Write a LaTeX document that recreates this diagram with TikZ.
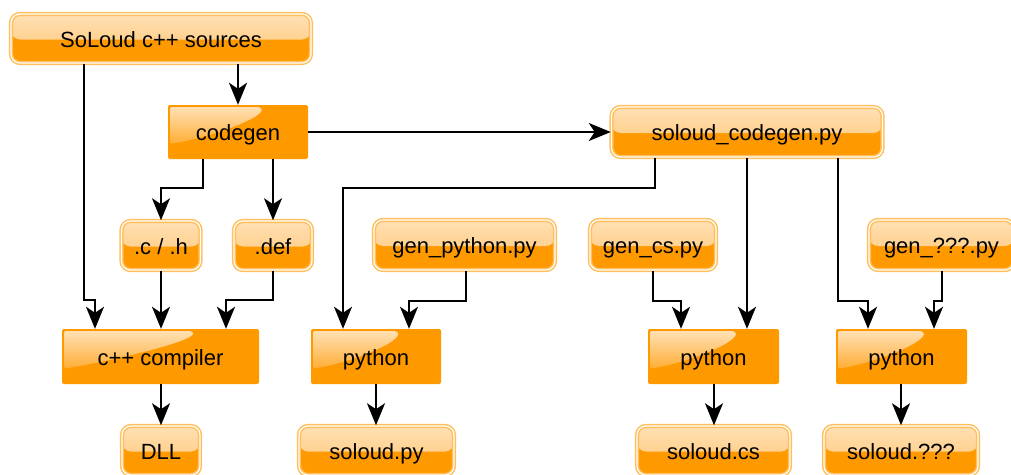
\documentclass[tikz,border=0pt]{standalone}
\usepackage{fontspec}
\setmainfont{Liberation Sans}
\usetikzlibrary{arrows.meta,calc}
\definecolor{org}{HTML}{FF9900}
\definecolor{orglight}{HTML}{FFC46E}
\definecolor{orgtop}{HTML}{FFE0B5}
\definecolor{orgrim}{HTML}{FFBF5C}
\definecolor{glosstop}{HTML}{FFE3BC}
\tikzset{
  base/.style={font=\fontsize{22}{26}\selectfont, text=black, inner sep=0pt, anchor=center,
    text height=21pt, text depth=4pt},
  procbox/.style={base, fill=org, rounded corners=2pt, path picture={
    \shade[top color=glosstop, bottom color=org]
      ([shift={(2pt,-2pt)}]path picture bounding box.north west)
      -- ($(path picture bounding box.north west)!0.66!(path picture bounding box.north east)+(0,-2pt)$)
      .. controls +(6pt,-10pt) and +(40pt,6pt) ..
      ($(path picture bounding box.north west)!0.72!(path picture bounding box.south west)+(2pt,0)$)
      -- cycle;
  }},
  docbox/.style={base, draw=orgrim, line width=1.5pt, double=white, double distance=1.2pt,
    rounded corners=9pt, fill=org, path picture={
    \shade[top color=orgtop, bottom color=orglight]
      (path picture bounding box.north west) rectangle ($(path picture bounding box.east)+(0,-1pt)$);
  }},
  arr/.style={line width=2pt, line join=miter, -{Stealth[length=22pt,width=18pt,inset=6pt]}},
}
\begin{document}
\begin{tikzpicture}[x=1pt,y=-1pt]
\useasboundingbox (0,0) rectangle (1011,474);
% row 1
\node[docbox, minimum width=300pt, minimum height=49pt] (src) at (161,38.5) {SoLoud c++ sources};
% row 2
\node[procbox, minimum width=140pt, minimum height=54pt] (codegen) at (238,132) {codegen};
\node[docbox, minimum width=271pt, minimum height=50pt] (scg) at (747,132) {soloud\_codegen.py};
% row 3
\node[docbox, minimum width=79pt, minimum height=49pt] (ch) at (161,245.5) {.c / .h};
\node[docbox, minimum width=78pt, minimum height=49pt] (def) at (273,245.5) {.def};
\node[docbox, minimum width=181pt, minimum height=50pt] (genpy) at (464.5,245) {gen\_python.py};
\node[docbox, minimum width=126pt, minimum height=50pt] (gencs) at (653,245) {gen\_cs.py};
\node[docbox, minimum width=145pt, minimum height=50pt] (genq) at (941.5,245) {gen\_???.py};
% row 4
\node[procbox, minimum width=197pt, minimum height=55pt] (cpp) at (160.5,356.5) {c++ compiler};
\node[procbox, minimum width=130pt, minimum height=55pt] (py1) at (376,356.5) {python};
\node[procbox, minimum width=131pt, minimum height=55pt] (py2) at (713.5,356.5) {python};
\node[procbox, minimum width=131pt, minimum height=55pt] (py3) at (901.5,356.5) {python};
% row 5
\node[docbox, minimum width=78pt, minimum height=49pt] (dll) at (161,450.5) {DLL};
\node[docbox, minimum width=155pt, minimum height=49pt] (sopy) at (376.5,450.5) {soloud.py};
\node[docbox, minimum width=153pt, minimum height=49pt] (socs) at (713.5,450.5) {soloud.cs};
\node[docbox, minimum width=154pt, minimum height=49pt] (soq) at (901,450.5) {soloud.???};
% connectors
\draw[arr] ([xshift=-77pt]src.south) |- (95,300) -- ([xshift=-65.5pt]cpp.north);
\draw[arr] ([xshift=77pt]src.south) -- (codegen.north);
\draw[arr] (codegen.east) -- (scg.west |- codegen.east);
\draw[arr] ([xshift=-35pt]codegen.south) |- (161,188) -- (ch.north);
\draw[arr] ([xshift=35pt]codegen.south) -- (def.north);
\draw[arr] (ch.south) -- (ch.south |- cpp.north);
\draw[arr] (def.south) |- (226,300) -- ([xshift=65.5pt]cpp.north);
\draw[arr] ([xshift=0.5pt]cpp.south) -- ([xshift=0.5pt]cpp.south |- dll.north);
\draw[arr] ([xshift=-92pt]scg.south) |- (343,188) -- ([xshift=-33pt]py1.north);
\draw[arr] ([xshift=1.5pt]genpy.south) |- (409,301) -- ([xshift=33pt]py1.north);
\draw[arr] (py1.south) -- (py1.south |- sopy.north);
\draw[arr] (gencs.south) |- (681,301) -- ([xshift=-32.5pt]py2.north);
\draw[arr] (scg.south) -- (scg.south |- py2.north);
\draw[arr] ([xshift=91pt]scg.south) |- (868,301) -- ([xshift=-33.5pt]py3.north);
\draw[arr] ([xshift=0.5pt]genq.south) |- (934,301) -- ([xshift=32.5pt]py3.north);
\draw[arr] ([xshift=0.5pt]py2.south) -- ([xshift=0.5pt]py2.south |- socs.north);
\draw[arr] ([xshift=-0.5pt]py3.south) -- ([xshift=-0.5pt]py3.south |- soq.north);
\end{tikzpicture}
\end{document}
